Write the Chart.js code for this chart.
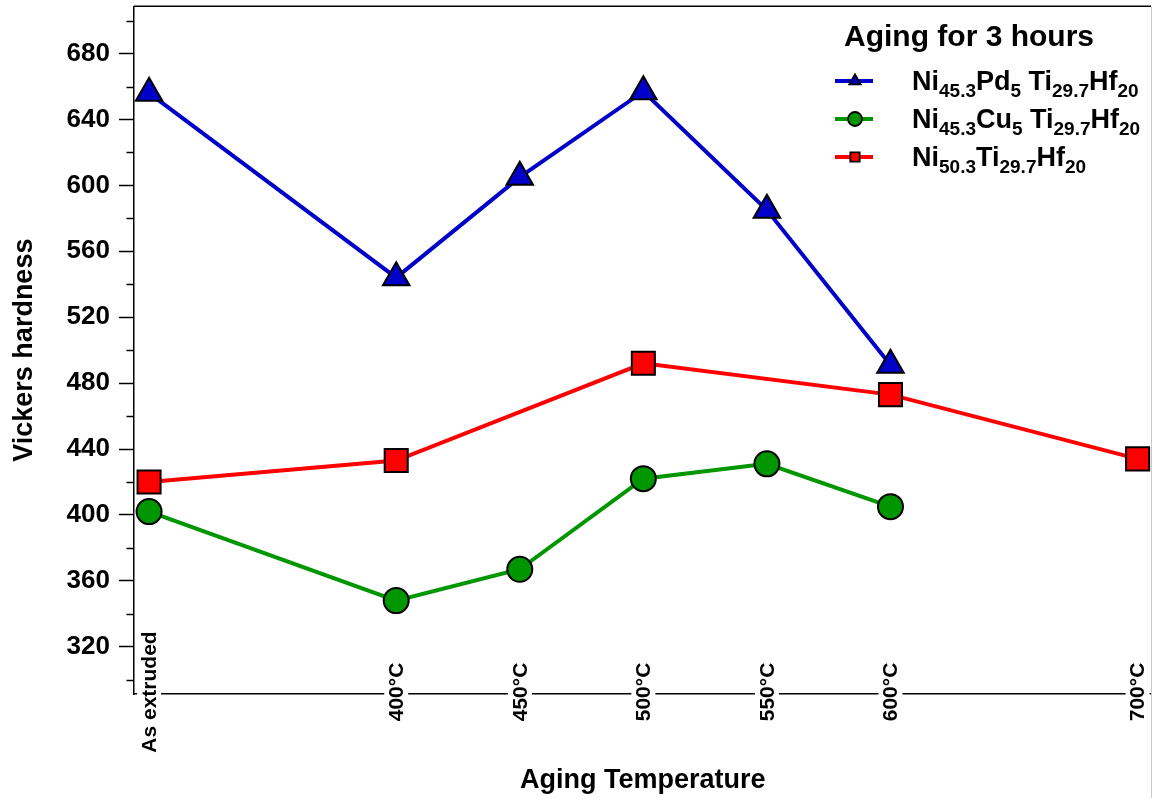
<!DOCTYPE html>
<html>
<head>
<meta charset="utf-8">
<script src="https://cdn.jsdelivr.net/npm/chart.js@4/dist/chart.umd.min.js"></script>
<style>
  html, body { margin: 0; padding: 0; background: #fff; }
  /* the canvas is a little larger than the frame so the point overflow
     padding Chart.js reserves falls outside the visible page */
  #wrap { width: 1152px; height: 798px; position: relative; overflow: hidden; }
  #hardnessChart { position: absolute; left: 0; top: -12px; }
</style>
</head>
<body>
<div id="wrap"><canvas id="hardnessChart" width="1170" height="810"></canvas></div>
<script>
const FONT = '"Liberation Sans", Arial, Helvetica, sans-serif';

// x positions in °C; "As extruded" is placed one 100° step left of 400°C
const temps = [300, 400, 450, 500, 550, 600, 700];
const tempLabels = ['As extruded', '400°C', '450°C', '500°C', '550°C', '600°C', '700°C'];

// Vickers hardness per alloy
const pdTemps = [300, 400, 450, 500, 550, 600];
const pdHardness = [656, 544, 605, 657, 585, 491];
const cuTemps = [300, 400, 450, 500, 550, 600];
const cuHardness = [402, 348, 367, 422, 431, 405];
const baseTemps = [300, 400, 500, 600, 700];
const baseHardness = [420, 433, 492, 473, 434];

// legend names, "_" marks a subscript piece
const legendTitle = 'Aging for 3 hours';
const pdName = ['Ni', '_45.3', 'Pd', '_5', ' Ti', '_29.7', 'Hf', '_20'];
const cuName = ['Ni', '_45.3', 'Cu', '_5', ' Ti', '_29.7', 'Hf', '_20'];
const baseName = ['Ni', '_50.3', 'Ti', '_29.7', 'Hf', '_20'];

const BLUE = '#0000C8';
const GREEN = '#009600';
const RED = '#FF0000';

// page offset of the canvas (see #hardnessChart style)
const TOP_SHIFT = 12;

const pts = (xs, ys) => xs.map((x, i) => ({ x, y: ys[i] }));

function series(label, name, xs, ys, color, style, radius) {
  return {
    label, name,
    data: pts(xs, ys),
    borderColor: color,
    backgroundColor: color,
    borderWidth: 4,
    pointStyle: style,
    pointRadius: radius,
    pointBorderColor: '#000',
    pointBackgroundColor: color,
    pointBorderWidth: 2,
    tension: 0,
  };
}

function drawMarker(ctx, style, radius, x, y, color) {
  const opts = { pointStyle: style, radius, borderWidth: 1.8, rotation: 0 };
  ctx.fillStyle = color;
  ctx.strokeStyle = '#000';
  ctx.lineWidth = 1.8;
  Chart.helpers.drawPoint(ctx, opts, x, y);
}

const decorations = {
  id: 'decorations',
  afterDraw(chart) {
    const { ctx, chartArea: area } = chart;
    const xs = chart.scales.x;
    const ys = chart.scales.y;

    ctx.save();
    // frame: black top edge, faint right edge
    ctx.strokeStyle = '#000';
    ctx.lineWidth = 1.5;
    ctx.beginPath();
    ctx.moveTo(area.left, area.top);
    ctx.lineTo(1151, area.top);
    ctx.stroke();
    ctx.strokeStyle = '#c8c8c8';
    ctx.lineWidth = 1;
    ctx.beginPath();
    ctx.moveTo(1151.5, area.top);
    ctx.lineTo(1151.5, chart.height);
    ctx.stroke();

    // short minor ticks on the hardness axis
    ctx.strokeStyle = '#000';
    ctx.lineWidth = 1.5;
    ys.ticks.forEach(t => {
      if (t.value % 40 === 0) return;
      const y = Math.round(ys.getPixelForValue(t.value)) + 0.5;
      ctx.beginPath();
      ctx.moveTo(area.left - 7.5, y);
      ctx.lineTo(area.left, y);
      ctx.stroke();
    });

    // temperature labels, upright and sitting across the axis line
    ctx.font = `bold 21px ${FONT}`;
    ctx.textAlign = 'center';
    ctx.textBaseline = 'middle';
    const axisY = xs.top;
    temps.forEach((t, i) => {
      const x = xs.getPixelForValue(t);
      ctx.fillStyle = '#fff';
      ctx.fillRect(x - 12, axisY - 3, 24, 6);
      ctx.save();
      ctx.translate(x + 1, axisY - 2);
      ctx.rotate(-Math.PI / 2);
      ctx.fillStyle = '#000';
      ctx.fillText(tempLabels[i], 0, 0);
      ctx.restore();
    });

    // legend
    ctx.translate(0, TOP_SHIFT);
    ctx.textAlign = 'left';
    ctx.textBaseline = 'alphabetic';
    ctx.fillStyle = '#000';
    ctx.font = `bold 30px ${FONT}`;
    ctx.fillText(legendTitle, 844, 46);

    chart.data.datasets.forEach((ds, i) => {
      const base = 90 + i * 38;
      const ly = base - 9;
      ctx.strokeStyle = ds.borderColor;
      ctx.lineWidth = 4;
      ctx.beginPath();
      ctx.moveTo(835, ly);
      ctx.lineTo(873, ly);
      ctx.stroke();
      const r = ds.pointStyle === 'circle' ? 7 : 6.6;
      drawMarker(ctx, ds.pointStyle, r, 855, ly, ds.pointBackgroundColor);

      let x = 912;
      ctx.fillStyle = '#000';
      ds.name.forEach(piece => {
        const sub = piece.startsWith('_');
        const text = sub ? piece.slice(1) : piece;
        ctx.font = sub ? `bold 19px ${FONT}` : `bold 27px ${FONT}`;
        ctx.fillText(text, x, sub ? base + 7 : base);
        x += ctx.measureText(text).width;
      });
    });
    ctx.restore();
  }
};

const titleFont = { family: FONT, size: 27, weight: 'bold' };

new Chart(document.getElementById('hardnessChart'), {
  type: 'line',
  data: {
    datasets: [
      series('Ni45.3Pd5 Ti29.7Hf20', pdName, pdTemps, pdHardness, BLUE, 'triangle', 15.3),
      series('Ni45.3Cu5 Ti29.7Hf20', cuName, cuTemps, cuHardness, GREEN, 'circle', 12.5),
      series('Ni50.3Ti29.7Hf20', baseName, baseTemps, baseHardness, RED, 'rect', 16.3),
    ],
  },
  options: {
    responsive: false,
    animation: false,
    layout: { padding: 0 },
    plugins: { legend: { display: false }, tooltip: { enabled: false } },
    scales: {
      x: {
        type: 'linear',
        min: 293.9,
        max: 705.7,
        grid: { display: false },
        ticks: { display: false },
        border: { color: '#000', width: 1.5 },
        title: { display: true, text: 'Aging Temperature', color: '#000', font: titleFont, padding: { top: 0, bottom: 1 } },
        afterFit: s => {
          s.height = 104;
          s.paddingLeft = 0;
          s.paddingRight = 0;
        },
      },
      y: {
        min: 291.3,
        max: 708.7,
        ticks: {
          stepSize: 20,
          includeBounds: false,
          autoSkip: false,
          color: '#000',
          padding: 9,
          font: { family: FONT, size: 26, weight: 'bold' },
          callback: v => (v % 40 === 0 ? v : ''),
        },
        grid: {
          drawOnChartArea: false,
          tickLength: 15,
          tickWidth: 1.5,
          tickColor: c => (c.tick && c.tick.value % 40 === 0 ? '#000' : 'rgba(0,0,0,0)'),
        },
        border: { color: '#000', width: 1.5 },
        title: { display: true, text: 'Vickers hardness', color: '#000', font: titleFont, padding: { top: 8, bottom: 0 } },
        afterFit: s => {
          s.width = 134;
          s.paddingTop = 0;
          s.paddingBottom = 0;
        },
      },
    },
  },
  plugins: [decorations],
});
</script>
</body>
</html>
